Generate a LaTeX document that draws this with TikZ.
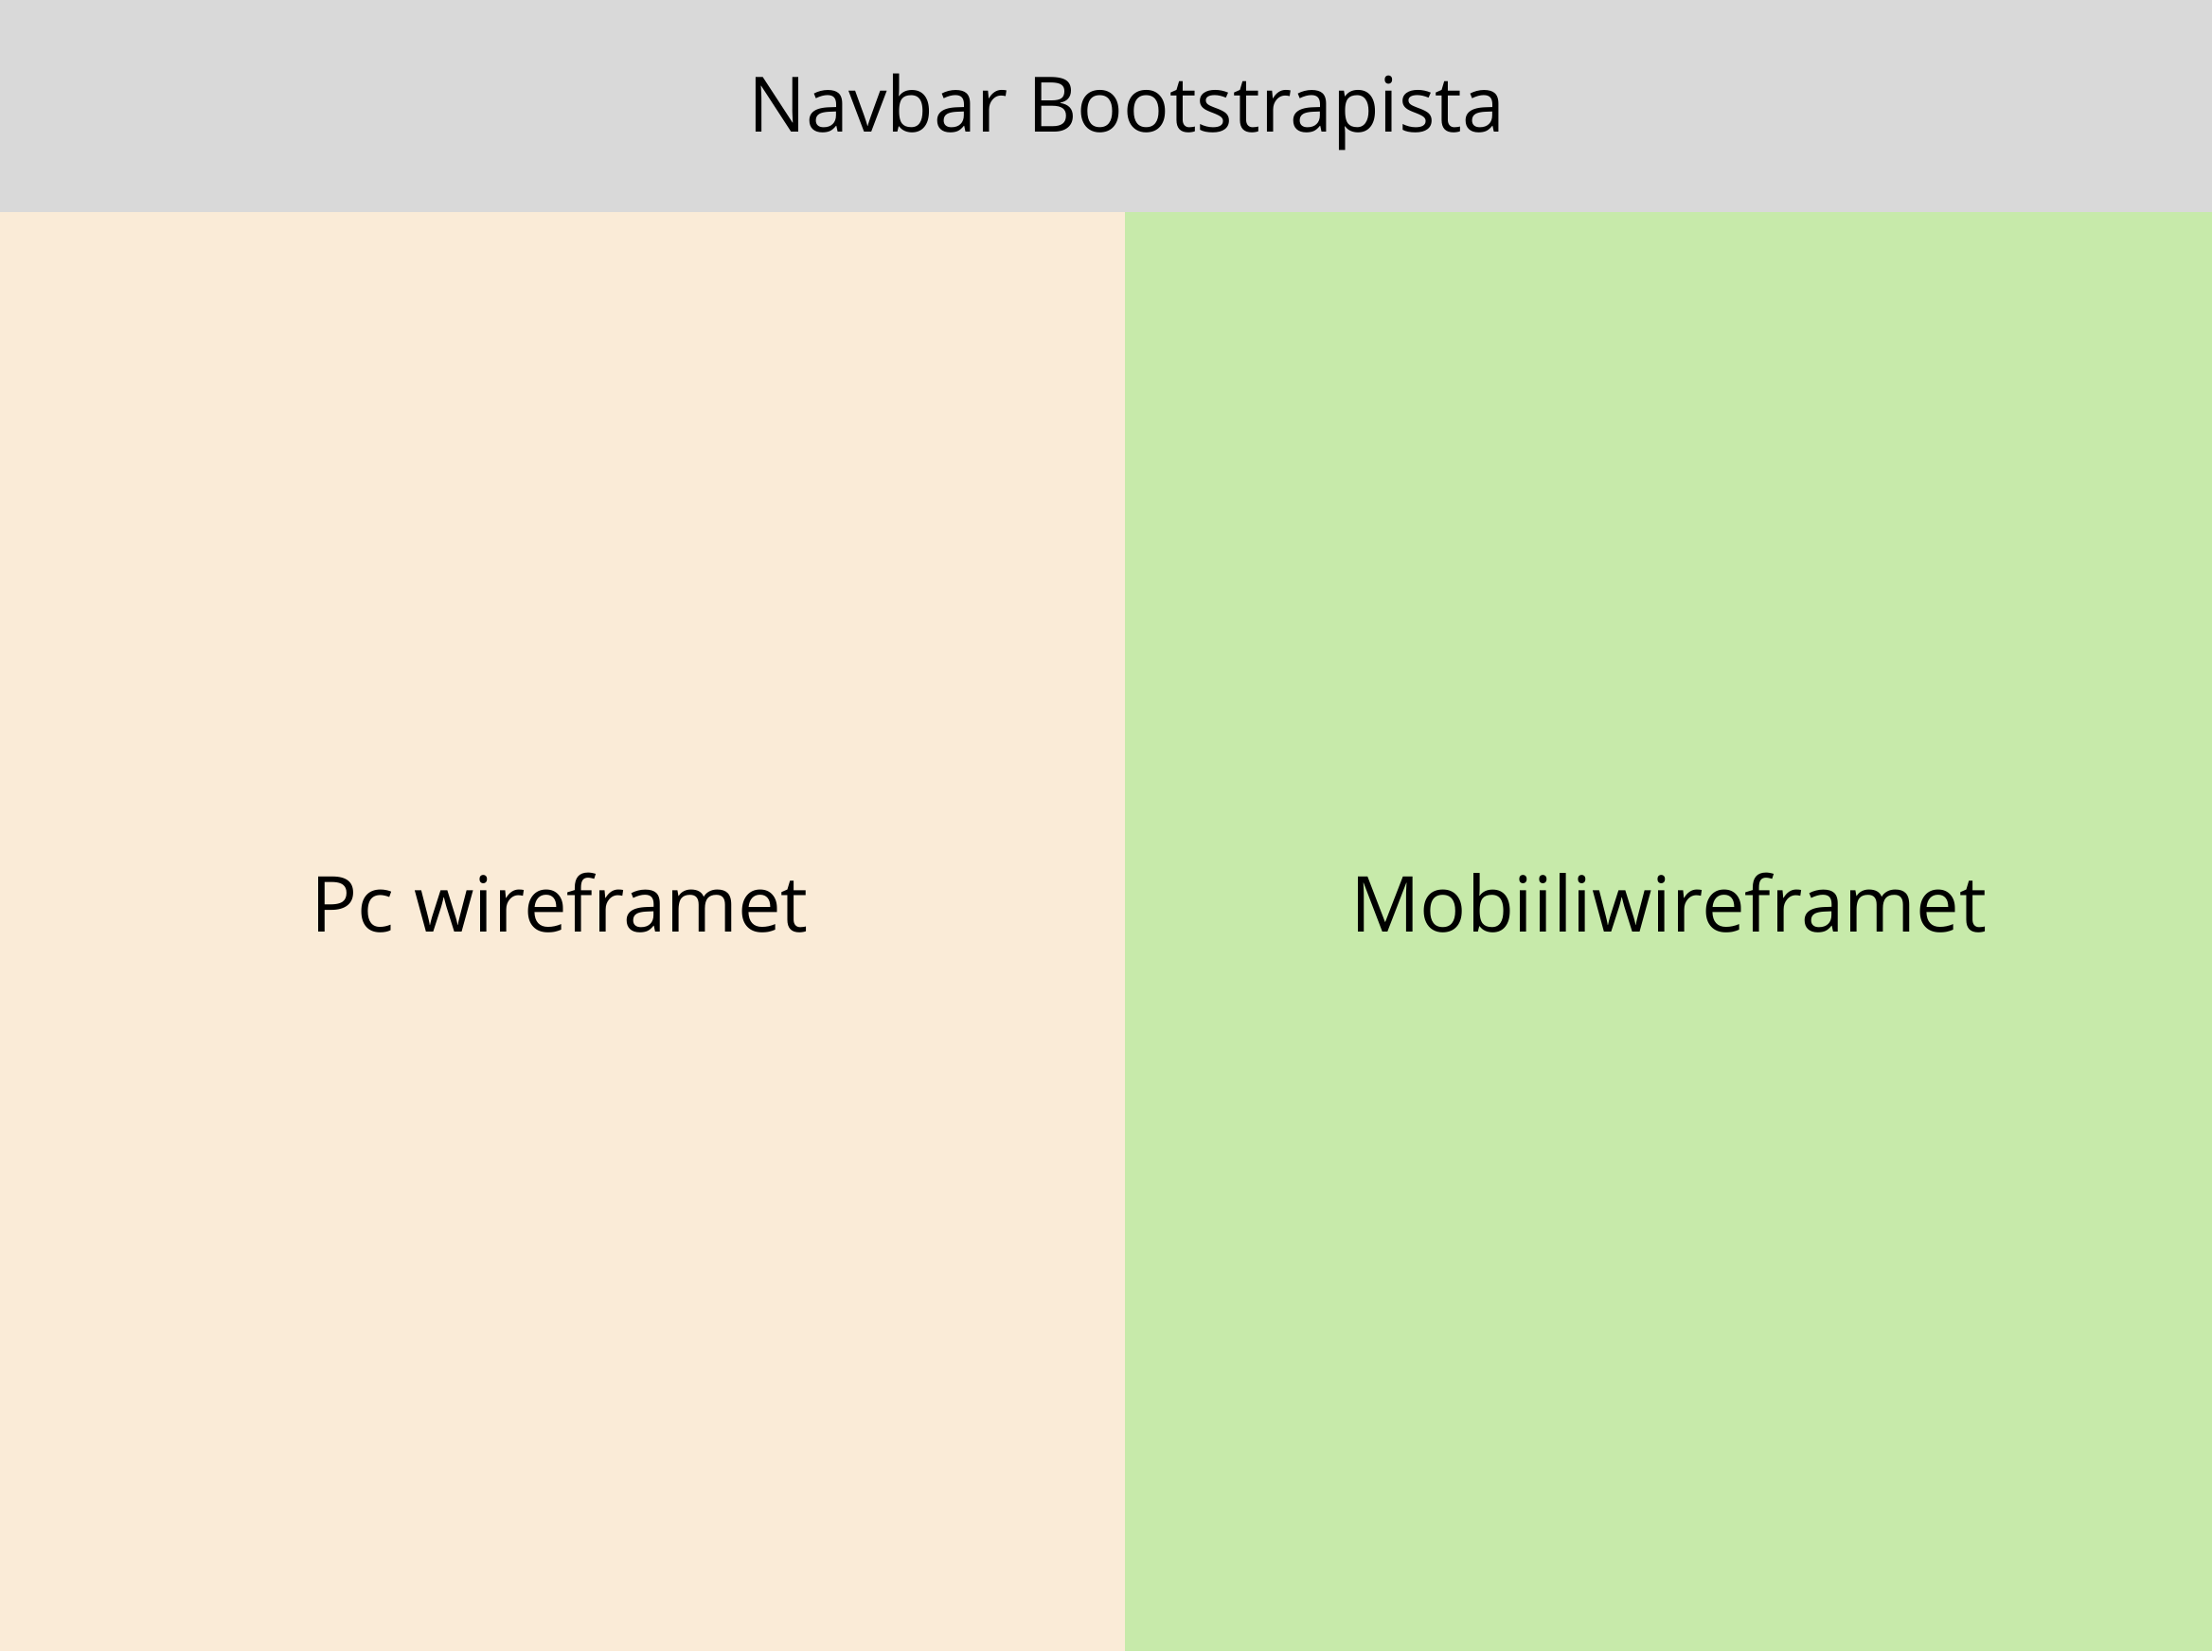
\documentclass[tikz,border=0pt]{standalone}
\usepackage{fontspec}
\setmainfont{Open Sans}
\usepackage{tikz}
\usetikzlibrary{positioning}
\definecolor{navgray}{HTML}{D9D9D9}
\definecolor{pcpeach}{HTML}{FAEBD7}
\definecolor{mobgreen}{HTML}{C7EAAA}
\begin{document}
\begin{tikzpicture}
\tikzstyle{panel}=[rectangle, inner sep=0pt, outer sep=0pt, anchor=north west]
\tikzstyle{title}=[inner sep=0pt, anchor=base, font=\fontsize{23}{28}\selectfont]
\tikzstyle{label}=[inner sep=0pt, anchor=base, font=\fontsize{23.2}{28}\selectfont]
\useasboundingbox (0,0) rectangle (23.36,-17.44);

\node[panel, fill=navgray, minimum width=23.36cm, minimum height=2.24cm] (navbar) at (0,0) {};
\node[panel, fill=pcpeach, minimum width=11.88cm, minimum height=15.2cm] (pc) at (0,-2.24) {};
\node[panel, fill=mobgreen, minimum width=11.48cm, minimum height=15.2cm] (mobile) at (11.88,-2.24) {};

\node[title] (navtext) at (11.90,-1.40) {Navbar Bootstrapista};
\node[label] (pctext) at (5.91,-9.84) {Pc wireframet};
\node[label] (mobtext) at (17.62,-9.84) {Mobiiliwireframet};
\end{tikzpicture}
\end{document}
